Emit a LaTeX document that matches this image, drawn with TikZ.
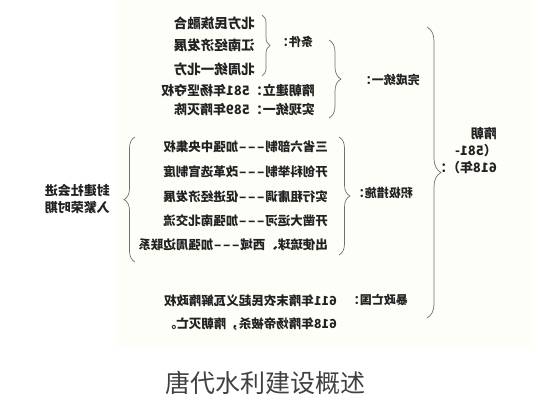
\documentclass[tikz,border=0pt]{standalone}
\usepackage{fontspec}
\usepackage{graphicx}
\usetikzlibrary{decorations.pathreplacing}
\newfontfamily\cjk{Noto Sans CJK SC}
\definecolor{ink}{HTML}{222222}
\definecolor{bracecol}{HTML}{707070}
\definecolor{bgtint}{HTML}{FEFEF9}
\definecolor{titlecol}{HTML}{404040}
\newcommand{\dd}{\makebox[9pt]{\scalebox{1.7}[1]{-}}}
\newcommand{\mir}[1]{\reflectbox{#1}}
\begin{document}
\begin{tikzpicture}[x=1pt,y=-1pt,
  txt/.style={inner sep=0pt, anchor=east, text=ink},
  big/.style={font=\cjk\bfseries\fontsize{13.5}{17}\selectfont},
  mid/.style={font=\cjk\bfseries\fontsize{13}{17}\selectfont},
  sml/.style={font=\cjk\bfseries\fontsize{12.5}{17}\selectfont},
  lab/.style={font=\cjk\bfseries\fontsize{12}{17}\selectfont},
  brc/.style={draw=bracecol, line width=0.7pt, decorate,
    decoration={brace, amplitude=#1}}]
\useasboundingbox (0,0) rectangle (533,400);
\fill[bgtint] (115,0) rectangle (533,346);

% condition items
\node[txt,big] (c1) at (255,23) {\mir{北方民族融合}};
\node[txt,big] (c2) at (255,45) {\mir{江南经济发展}};
\node[txt,big] (c3) at (255,69) {\mir{北周统一北方}};
\node[txt,lab] (tj) at (313,42) {\mir{条件：}};
\node[txt,mid] (sy) at (315,90) {\mir{隋朝建立：581年杨坚夺权}};
\node[txt,mid] (sx) at (315,110) {\mir{实现统一：589年隋灭陈}};
\node[txt,lab] (wc) at (420,80) {\mir{完成统一：}};

% main node
\node[txt,mid] (sc) at (497,152) {\mir{\begin{tabular}{@{}l@{}}隋朝\\（581-\\618年）：\end{tabular}}};

% measures
\node[txt,sml] (m1) at (328,147) {\mir{三省六部制\dd\dd\dd 加强中央集权}};
\node[txt,sml] (m2) at (328,172) {\mir{开创科举制\dd\dd\dd 改革选官制度}};
\node[txt,sml] (m3) at (328,197) {\mir{实行租庸调\dd\dd\dd 促进经济发展}};
\node[txt,sml] (m4) at (328,221) {\mir{开凿大运河\dd\dd\dd 加强南北交流}};
\node[txt,sml] (m5) at (328,245) {\mir{出使琉球、西域\dd\dd\dd 加强周边联系}};
\node[txt,lab] (jj) at (413,193) {\mir{积极措施：}};
\node[txt,mid] (fj) at (110,201) {\mir{\begin{tabular}{@{}l@{}}封建社会进\\入繁荣时期\end{tabular}}};

% fall
\node[txt,lab] (bz) at (408,300) {\mir{暴政亡国：}};
\node[txt,sml] (b1) at (337,301) {\mir{611年隋末农民起义瓦解隋政权}};
\node[txt,sml] (b2) at (337,324) {\mir{618年隋炀帝被杀，隋朝灭亡。}};

% title
\node[inner sep=0pt, text=titlecol, font=\cjk\fontsize{25}{30}\selectfont] (title) at (265.5,383) {唐代水利建设概述};

% brace coordinates
\coordinate (b1t) at (262,15);  \coordinate (b1b) at (262,76);
\coordinate (b2t) at (329,40);  \coordinate (b2b) at (329,118);
\coordinate (b3t) at (427,27);  \coordinate (b3b) at (427,318);
\coordinate (b4t) at (339,137); \coordinate (b4b) at (339,255);
\coordinate (b5t) at (135,137); \coordinate (b5b) at (135,262);

\draw[brc=8pt]  (b1t) -- (b1b);
\draw[brc=12pt] (b2t) -- (b2b);
\draw[brc=14pt] (b3t) -- (b3b);
\draw[brc=11pt] (b4t) -- (b4b);
\draw[brc=11pt] (b5b) -- (b5t);
\end{tikzpicture}
\end{document}
